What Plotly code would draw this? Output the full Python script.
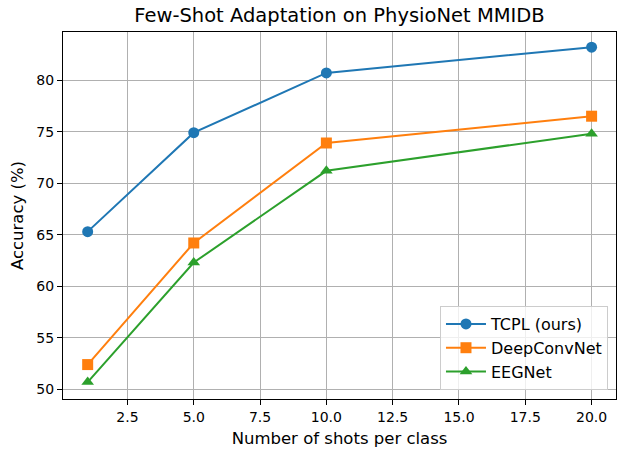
import plotly.graph_objects as go

shots = [1, 5, 10, 20]
tcpl = [65.3, 74.9, 80.7, 83.2]
deepconv = [52.4, 64.2, 73.9, 76.5]
eegnet = [50.7, 62.3, 71.2, 74.8]

series = [
    ("TCPL (ours)", tcpl, "#1f77b4", "circle"),
    ("DeepConvNet", deepconv, "#ff7f0e", "square"),
    ("EEGNet", eegnet, "#2ca02c", "triangle-up"),
]

fig = go.Figure()
for name, vals, color, sym in series:
    fig.add_trace(go.Scatter(
        x=shots, y=vals, name=name, mode="lines+markers",
        line=dict(color=color, width=2),
        marker=dict(color=color, symbol=sym, size=11),
    ))

axis_common = dict(
    showgrid=True, gridcolor="#b0b0b0", gridwidth=1,
    showline=True, linecolor="black", linewidth=1, mirror=True,
    ticks="outside", ticklen=5, tickcolor="black",
    zeroline=False, automargin=False,
    tickfont=dict(family="DejaVu Sans", size=14, color="black"),
)

W, H = 624, 456
fig.update_layout(
    width=W, height=H,
    margin=dict(l=63, r=8, t=32, b=57),
    paper_bgcolor="white", plot_bgcolor="white",
    font=dict(family="DejaVu Sans", color="black"),
    title=dict(text="Few-Shot Adaptation on PhysioNet MMIDB", x=339.5 / W, xanchor="center",
               y=1 - 15 / H, yanchor="middle",
               font=dict(family="DejaVu Sans", size=19.5, color="black")),
    xaxis=dict(range=[0.07, 20.92], tickmode="array",
               tickvals=[2.5, 5, 7.5, 10, 12.5, 15, 17.5, 20],
               ticktext=["2.5", "5.0", "7.5", "10.0", "12.5", "15.0", "17.5", "20.0"],
               title=dict(text="Number of shots per class", standoff=8,
                          font=dict(family="DejaVu Sans", size=16.5)),
               **axis_common),
    yaxis=dict(range=[49.06, 84.67], tickmode="array",
               tickvals=[50, 55, 60, 65, 70, 75, 80],
               title=dict(text="Accuracy (%)", standoff=8,
                          font=dict(family="DejaVu Sans", size=16.5)),
               **axis_common),
    legend=dict(x=0.9855, y=0.0245, xanchor="right", yanchor="bottom",
                bgcolor="rgba(255,255,255,0.8)", bordercolor="#cccccc", borderwidth=1,
                font=dict(family="DejaVu Sans", size=16, color="black"),
                itemwidth=40),
    showlegend=True,
)

fig.write_html("out.html", config={"displayModeBar": False},
               post_script="document.body.style.margin='0';document.body.style.overflow='hidden';")
